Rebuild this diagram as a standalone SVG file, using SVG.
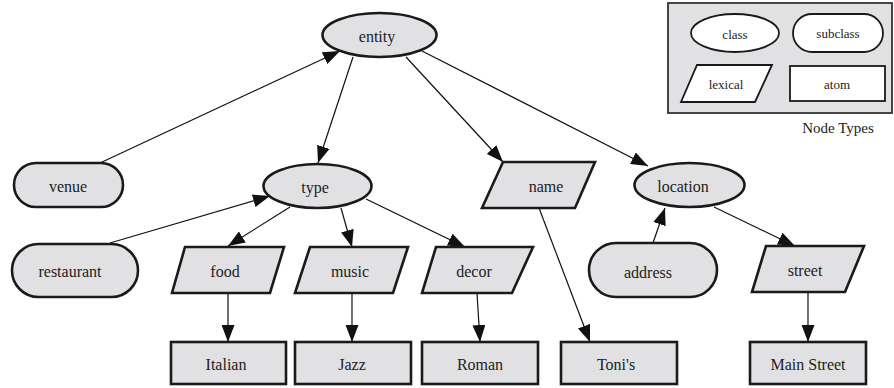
<svg xmlns="http://www.w3.org/2000/svg" width="894" height="388" viewBox="0 0 894 388">
<defs>
<marker id="ah" markerWidth="17" markerHeight="13" refX="17" refY="6.5" orient="auto" markerUnits="userSpaceOnUse">
<path d="M0,0 L17,6.5 L0,13 z" fill="#111"/>
</marker>
<style>
.n{fill:#e1e1e3;stroke:#1a1a1a;stroke-width:2.6}
.l{fill:#fff;stroke:#1a1a1a;stroke-width:1.8}
.e{stroke:#111;stroke-width:1.2;fill:none;marker-end:url(#ah)}
text{font-family:"Liberation Serif","Times New Roman",serif;fill:#222;text-anchor:middle;dominant-baseline:central}
.t{font-size:16px}
.s{font-size:13px}
</style>
</defs>
<rect width="894" height="388" fill="#fff"/>
<g id="legend">
<rect x="668" y="3" width="224" height="110" fill="#e1e1e3" stroke="#333" stroke-width="1.8"/>
<ellipse cx="735" cy="33" rx="44" ry="19" class="l"/>
<text x="735" y="34" class="s">class</text>
<rect x="793" y="14" width="90" height="38" rx="19" class="l"/>
<text x="838" y="33" class="s">subclass</text>
<polygon points="697,65 772,65 755,102 681,102" class="l"/>
<text x="726" y="84" class="s">lexical</text>
<rect x="790" y="66" width="95" height="35" class="l"/>
<text x="837" y="84" class="s">atom</text>
<text x="838" y="128" style="font-size:15px">Node Types</text>
</g>
<g id="edges">
<line x1="100" y1="163" x2="340" y2="51" class="e"/>
<line x1="353" y1="57" x2="318" y2="163" class="e"/>
<line x1="406" y1="57" x2="503" y2="162" class="e"/>
<line x1="422" y1="51" x2="648" y2="166" class="e"/>
<line x1="110" y1="243" x2="270" y2="196" class="e"/>
<line x1="290" y1="207" x2="228" y2="246" class="e"/>
<line x1="341" y1="208" x2="352" y2="247" class="e"/>
<line x1="366" y1="199" x2="465" y2="247" class="e"/>
<line x1="228" y1="293" x2="228" y2="342" class="e"/>
<line x1="352" y1="293" x2="352" y2="342" class="e"/>
<line x1="477" y1="293" x2="480" y2="342" class="e"/>
<line x1="539" y1="208" x2="590" y2="342" class="e"/>
<line x1="653" y1="243" x2="665" y2="208" class="e"/>
<line x1="714" y1="207" x2="795" y2="246" class="e"/>
<line x1="808" y1="292" x2="808" y2="342" class="e"/>
</g>
<g id="entity"><ellipse cx="379.5" cy="35" rx="57" ry="22" class="n"/><text x="377" y="36" class="t">entity</text></g>
<g id="venue"><rect x="14" y="163" width="109" height="44" rx="22" class="n"/><text x="68" y="186" class="t">venue</text></g>
<g id="type"><ellipse cx="317.5" cy="186" rx="54" ry="22" class="n"/><text x="315" y="187" class="t">type</text></g>
<g id="name"><polygon points="503,162 595,162 575,208 482,208" class="n"/><text x="546" y="186" class="t">name</text></g>
<g id="location"><ellipse cx="689.5" cy="185" rx="55" ry="22" class="n"/><text x="683" y="186" class="t">location</text></g>
<g id="restaurant"><rect x="12" y="244" width="126" height="53" rx="26.5" class="n"/><text x="70" y="271" class="t">restaurant</text></g>
<g id="food"><polygon points="185,247 284,247 270,293 172,293" class="n"/><text x="225" y="271" class="t">food</text></g>
<g id="music"><polygon points="310,247 408,247 393,293 295,293" class="n"/><text x="350" y="271" class="t">music</text></g>
<g id="decor"><polygon points="436,247 533,247 512,293 422,293" class="n"/><text x="474" y="271" class="t">decor</text></g>
<g id="address"><rect x="589" y="243" width="128" height="54" rx="27" class="n"/><text x="648" y="272" class="t">address</text></g>
<g id="street"><polygon points="766,246 864,246 845,292 752,292" class="n"/><text x="805" y="270" class="t">street</text></g>
<g id="italian"><rect x="171" y="342" width="115" height="42" class="n"/><text x="226" y="364" class="t">Italian</text></g>
<g id="jazz"><rect x="295" y="342" width="116" height="42" class="n"/><text x="352" y="364" class="t">Jazz</text></g>
<g id="roman"><rect x="422" y="342" width="116" height="42" class="n"/><text x="480" y="364" class="t">Roman</text></g>
<g id="tonis"><rect x="561" y="342" width="116" height="42" class="n"/><text x="616" y="364" class="t">Toni's</text></g>
<g id="mainstreet"><rect x="750" y="342" width="116" height="42" class="n"/><text x="808" y="364" class="t">Main Street</text></g>
</svg>
